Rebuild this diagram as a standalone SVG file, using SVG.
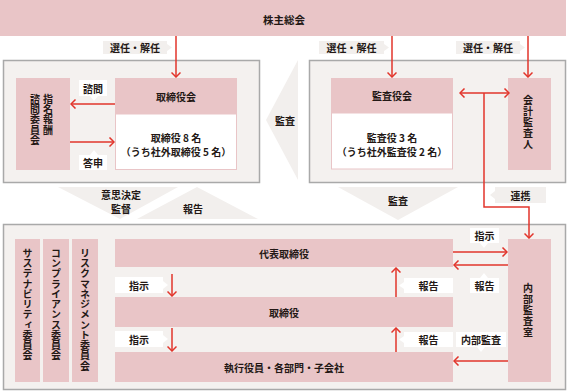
<svg xmlns="http://www.w3.org/2000/svg" width="567" height="391" viewBox="0 0 567 391">
<defs>
<style>
text{font-family:"Noto Sans CJK JP","Noto Sans",sans-serif;font-size:10px;font-weight:700;fill:#231815;text-anchor:middle;dominant-baseline:central}
.pink{fill:#e9c5c7}
.panel{fill:#f4f1ef;stroke:#a9a9a9;stroke-width:1.5}
.body{fill:#fff;stroke:#e9c5c7;stroke-width:1}
.glab{fill:#f2efed}
.wlab{fill:#fff}
.chev{fill:#f2efed}
.vt{writing-mode:vertical-rl;letter-spacing:1px}
.vs{writing-mode:vertical-rl;letter-spacing:0.25px;text-anchor:start}
.ln{fill:none;stroke:#e2342b;stroke-width:1.5}
.big{font-size:10.5px}
</style>
<marker id="ah" viewBox="0 0 10 10" refX="9" refY="5" markerWidth="10" markerHeight="10" markerUnits="userSpaceOnUse" orient="auto-start-reverse">
<path d="M4.5,0.5 L9,5 L4.5,9.5" fill="none" stroke="#e2342b" stroke-width="1.5"/>
</marker>
</defs>

<!-- panels -->
<rect class="panel" x="3.5" y="60.5" width="256" height="122"/>
<rect class="panel" x="309.5" y="60.5" width="256" height="122"/>
<rect class="panel" x="3.5" y="224.5" width="562" height="165"/>

<!-- chevrons -->
<polygon class="chev" points="298,60 266,120 298,180"/>
<text x="285" y="120">監査</text>
<polygon class="chev" points="58,187 178,187 120,219"/>
<text x="121" y="194">意思決定</text>
<text x="121" y="208.5">監督</text>
<polygon class="chev" points="197,187 258,219 137,219"/>
<text x="193" y="208">報告</text>
<polygon class="chev" points="338,187 458,187 398,220"/>
<text x="398" y="200">監査</text>

<!-- nodes -->
<g id="shareholders">
<rect class="pink" x="0" y="0" width="566" height="36"/>
<text class="big" x="284" y="19">株主総会</text>
</g>
<g id="board">
<rect class="pink" x="115" y="78" width="122" height="36"/>
<rect class="body" x="115.5" y="114" width="121" height="55.5"/>
<text x="176" y="96">取締役会</text>
<text x="176" y="137">取締役 8 名</text>
<text x="176" y="151">（うち社外取締役 5 名）</text>
</g>
<g id="nomination">
<rect class="pink" x="16" y="78" width="54" height="92"/>
<text class="vs" x="48" y="94">指名報酬</text>
<text class="vs" x="35" y="94">諮問委員会</text>
</g>
<g id="auditboard">
<rect class="pink" x="331" y="78" width="122" height="35"/>
<rect class="body" x="331.5" y="113" width="121" height="56"/>
<text x="392" y="95">監査役会</text>
<text x="392" y="137">監査役 3 名</text>
<text x="392" y="151">（うち社外監査役 2 名）</text>
</g>
<g id="accountant">
<rect class="pink" x="508" y="78" width="43" height="92"/>
<text class="vt" x="528" y="122.5">会計監査人</text>
</g>
<g id="sustain">
<rect class="pink" x="15" y="239" width="25" height="143"/>
<text class="vs" x="27.5" y="248">サステナビリティ委員会</text>
</g>
<g id="compliance">
<rect class="pink" x="43" y="239" width="26" height="143"/>
<text class="vs" x="56" y="248">コンプライアンス委員会</text>
</g>
<g id="risk">
<rect class="pink" x="72" y="239" width="26" height="143"/>
<text class="vs" x="85" y="248">リスクマネジメント委員会</text>
</g>
<g id="ceo">
<rect class="pink" x="115" y="239" width="338" height="28"/>
<text x="284" y="253">代表取締役</text>
</g>
<g id="directors">
<rect class="pink" x="115" y="297" width="338" height="30"/>
<text x="284" y="312">取締役</text>
</g>
<g id="officers">
<rect class="pink" x="115" y="352" width="338" height="30"/>
<text x="284" y="367">執行役員・各部門・子会社</text>
</g>
<g id="internalaudit">
<rect class="pink" x="508" y="239" width="43" height="143"/>
<text class="vt" x="528" y="310.5">内部監査室</text>
</g>

<!-- connectors -->
<g id="connectors">
<path class="ln" d="M176,36 V77" marker-end="url(#ah)"/>
<path class="ln" d="M392,36 V77" marker-end="url(#ah)"/>
<path class="ln" d="M528,36 V77" marker-end="url(#ah)"/>
<path class="ln" d="M115,104 H71" marker-end="url(#ah)"/>
<path class="ln" d="M70,142 H114" marker-end="url(#ah)"/>
<path class="ln" d="M460,93 H509" marker-start="url(#ah)" marker-end="url(#ah)"/>
<path class="ln" d="M484,93 V207 H529 V238" marker-end="url(#ah)"/>
<path class="ln" d="M172,274 V296" marker-end="url(#ah)"/>
<path class="ln" d="M172,328 V351" marker-end="url(#ah)"/>
<path class="ln" d="M396,297 V268" marker-end="url(#ah)"/>
<path class="ln" d="M396,352 V328" marker-end="url(#ah)"/>
<path class="ln" d="M453,252 H507" marker-end="url(#ah)"/>
<path class="ln" d="M508,265 H454" marker-end="url(#ah)"/>
<path class="ln" d="M508,361 H454" marker-end="url(#ah)"/>
</g>

<!-- labels -->
<g id="labels">
<path class="glab" d="M103,41 H167 V44 L172,47.5 L167,51 V54 H103 Z"/>
<text x="135" y="47.5">選任・解任</text>
<path class="glab" d="M319,41 H384 V44 L389,47.5 L384,51 V54 H319 Z"/>
<text x="351.5" y="47.5">選任・解任</text>
<path class="glab" d="M456,41 H520 V44 L525,47.5 L520,51 V54 H456 Z"/>
<text x="488" y="47.5">選任・解任</text>
<path class="glab" d="M495,187 H546 V203 H495 V199 L490,195 L495,191 Z"/>
<text x="520.5" y="195">連携</text>

<path class="wlab" d="M79,80 H107 V96 H98 L94,101 L90,96 H79 Z"/>
<text x="93" y="88">諮問</text>
<path class="wlab" d="M79,155 H90 L94,150 L98,155 H107 V170 H79 Z"/>
<text x="93" y="162.5">答申</text>

<path class="wlab" d="M115,277 H163 V281 L168,285 L163,289 V293 H115 Z"/>
<text x="139" y="285">指示</text>
<path class="wlab" d="M115,331 H163 V335 L168,339 L163,343 V347 H115 Z"/>
<text x="139" y="339">指示</text>
<path class="wlab" d="M404,278 H453 V293 H404 V289 L399,285.5 L404,282 Z"/>
<text x="428.5" y="285.5">報告</text>
<path class="wlab" d="M404,332 H453 V347 H404 V343 L399,339.5 L404,336 Z"/>
<text x="428.5" y="339.5">報告</text>
<path class="wlab" d="M470,228 H499 V243 H488 L484,248 L480,243 H470 Z"/>
<text x="484.5" y="235.5">指示</text>
<path class="wlab" d="M470,278 H480 L484,273 L488,278 H499 V293 H470 Z"/>
<text x="484.5" y="285.5">報告</text>
<path class="wlab" d="M456,332 H506 V347 H485 L481,352 L477,347 H456 Z"/>
<text x="481" y="339.5">内部監査</text>
</g>
</svg>
